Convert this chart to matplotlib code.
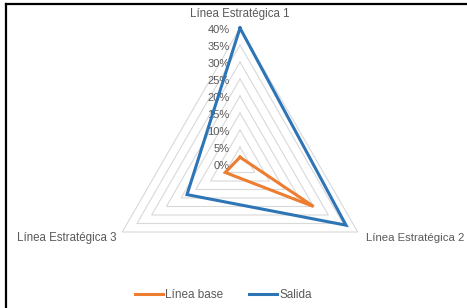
import numpy as np
import matplotlib
matplotlib.use("Agg")
import matplotlib.pyplot as plt
from matplotlib.lines import Line2D

# datos del grafico radial
categorias = ["Línea Estratégica 1", "Línea Estratégica 2", "Línea Estratégica 3"]
linea_base = [2, 25, 5]
salida = [40, 36, 18]
niveles = [0, 5, 10, 15, 20, 25, 30, 35, 40]
etiquetas = ["0%", "5%", "10%", "15%", "20%", "25%", "30%", "35%", "40%"]

plt.rcParams['font.family'] = ['Liberation Sans Narrow', 'Liberation Sans', 'DejaVu Sans']
gris = "#595959"

W, H = 467, 308
fig = plt.figure(figsize=(W / 100, H / 100), dpi=100)
ax = fig.add_axes([0, 0, 1, 1])

# centro y radio en pixeles (40% -> 136 px)
cx, cy = 240, 164
s = 40 / 136.0
ax.set_xlim(-cx * s, (W - cx) * s)
ax.set_ylim(-(H - cy) * s, cy * s)
ax.axis("off")

ang = np.pi / 2 - np.arange(3) * 2 * np.pi / 3


def xy(vals):
    v = np.array(list(vals) + [vals[0]], dtype=float)
    a = np.append(ang, ang[0])
    return v * np.cos(a), v * np.sin(a)


# rejilla triangular
for n in niveles[1:]:
    gx, gy = xy([n, n, n])
    ax.plot(gx, gy, color="#d9d9d9", lw=0.8, zorder=1)

bx, by = xy(linea_base)
ax.plot(bx, by, color="#ed7d31", lw=2.2, solid_joinstyle="miter", zorder=3, label="Línea base")
sx, sy = xy(salida)
ax.plot(sx, sy, color="#2e75b6", lw=2.2, solid_joinstyle="miter", zorder=4, label="Salida")

# etiquetas del eje radial
for n, t in zip(niveles, etiquetas):
    ax.text(-3.0, n - 0.6, t, ha="right", va="center", fontsize=8, color=gris, zorder=2)

# nombres de categorias
ax.text(0, 150 * s, categorias[0], ha="center", va="center", fontsize=8.3, color=gris)
ax.text(126 * s, -74 * s, categorias[1], ha="left", va="center", fontsize=8.2, color=gris)
ax.text(-123 * s, -74 * s, categorias[2], ha="right", va="center", fontsize=8.3, color=gris)

leg = ax.legend(loc="lower center", bbox_to_anchor=(0.478, -0.012), ncol=2, frameon=False,
                fontsize=8.5, handlelength=2.4, columnspacing=2.2, handletextpad=0.15)
for t in leg.get_texts():
    t.set_color(gris)

# borde de la captura
fig.add_artist(Line2D([6 / W, 6 / W], [0, 1 - 4 / H], color="black", lw=1.6))
fig.add_artist(Line2D([6 / W, 1], [1 - 4 / H, 1 - 4 / H], color="black", lw=1.6))

fig.savefig("out.png", dpi=100)
